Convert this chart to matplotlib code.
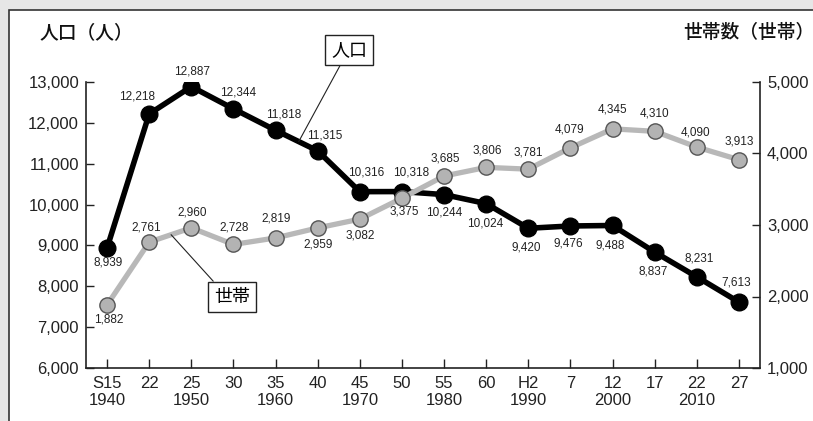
import matplotlib
matplotlib.use("Agg")
import matplotlib.pyplot as plt
from matplotlib.patches import Rectangle
from matplotlib.ticker import FuncFormatter, FixedLocator

# ------------------------------------------------------------------
# データ
# ------------------------------------------------------------------
era_labels = ["S15", "22", "25", "30", "35", "40", "45", "50", "55", "60",
              "H2", "7", "12", "17", "22", "27"]
year_labels = ["1940", "", "1950", "", "1960", "", "1970", "", "1980", "",
               "1990", "", "2000", "", "2010", ""]
population = [8939, 12218, 12887, 12344, 11818, 11315, 10316, 10318, 10244,
              10024, 9420, 9476, 9488, 8837, 8231, 7613]
households = [1882, 2761, 2960, 2728, 2819, 2959, 3082, 3375, 3685, 3806,
              3781, 4079, 4345, 4310, 4090, 3913]

# 数値ラベルのずらし量（ピクセル）
pop_offsets = [(1, -15), (-12, 17), (1, 15), (5, 16), (8, 16), (7, 15),
               (6, 19), (9, 19), (0, -18), (-1, -20), (-2, -19), (-2, -18),
               (-2, -20), (-2, -19), (2, 18), (-3, 20)]
hh_offsets = [(2, -15), (-3, 15), (1, 15), (1, 17), (1, 19), (0, -17),
              (0, -16), (2, -13), (1, 18), (1, 17), (0, 17), (-1, 18),
              (0, 19), (0, 18), (-1, 15), (0, 18)]

NUM_FONT = ["Liberation Sans", "DejaVu Sans"]
JP_FONT = ["Noto Sans CJK JP", "DejaVu Sans"]

x = list(range(len(era_labels)))
W, H = 813, 421

fig = plt.figure(figsize=(W / 100, H / 100), dpi=100)
fig.patch.set_facecolor("#e6e6e6")

# 白い枠
fig.patches.append(Rectangle((9 / W, -0.1), 1.0, 1 - 10 / H + 0.1,
                             transform=fig.transFigure, facecolor="white",
                             edgecolor="#333333", lw=1.2, zorder=-10))

ax = fig.add_axes([86 / W, (H - 368) / H, (760 - 86) / W, (368 - 82) / H])
ax.patch.set_visible(False)
ax2 = ax.twinx()
ax2.patch.set_visible(False)

ax.set_xlim(-0.5, len(x) - 0.5)
ax.set_ylim(6000, 13000)
ax2.set_ylim(1000, 5000)

# 人口（黒）
ax.plot(x, population, color="black", lw=4, marker="o", ms=12,
        markerfacecolor="black", markeredgecolor="black", zorder=3)
# 世帯（グレー）
ax2.plot(x, households, color="#b8b8b8", lw=3.8, marker="o", ms=11,
         markerfacecolor="#b3b3b3", markeredgecolor="#555555",
         markeredgewidth=1, zorder=3)

for i, v in enumerate(population):
    ax.annotate(f"{v:,}", (x[i], v), xytext=pop_offsets[i],
                textcoords="offset pixels", ha="center", va="center",
                fontsize=8.5, family=NUM_FONT, color="#222222")
for i, v in enumerate(households):
    ax2.annotate(f"{v:,}", (x[i], v), xytext=hh_offsets[i],
                 textcoords="offset pixels", ha="center", va="center",
                 fontsize=8.5, family=NUM_FONT, color="#222222")

# 軸
fmt = FuncFormatter(lambda v, p: f"{int(v):,}")
ax.yaxis.set_major_locator(FixedLocator(range(6000, 13001, 1000)))
ax.yaxis.set_major_formatter(fmt)
ax2.yaxis.set_major_locator(FixedLocator(range(1000, 5001, 1000)))
ax2.yaxis.set_major_formatter(fmt)

ax.set_xticks(x)
ax.set_xticklabels([f"{e}\n{y}" if y else e for e, y in zip(era_labels, year_labels)],
                   family=NUM_FONT, fontsize=12, linespacing=1.1, va="top")

for a in (ax, ax2):
    a.spines["top"].set_visible(False)
ax.spines["right"].set_visible(False)
ax2.spines["left"].set_visible(False)
ax2.spines["bottom"].set_visible(False)
for s in ("left", "bottom"):
    ax.spines[s].set_linewidth(1.2)
    ax.spines[s].set_color("#222222")
ax2.spines["right"].set_linewidth(1.2)
ax2.spines["right"].set_color("#222222")

ax.tick_params(axis="y", direction="in", length=6, width=1, pad=5,
               labelsize=12, colors="#222222")
ax2.tick_params(axis="y", direction="in", length=6, width=1, pad=5,
                labelsize=12, colors="#222222")
ax.tick_params(axis="x", direction="in", length=6.5, width=1, pad=6,
               labelsize=12, colors="#222222")
for lab in ax.get_yticklabels() + ax2.get_yticklabels():
    lab.set_family(NUM_FONT)

# 軸タイトル
fig.text(40 / W, 1 - 33 / H, "人口（人）", family=JP_FONT, fontsize=13.5,
         fontweight="medium", ha="left", va="center", color="#111111")
fig.text(683 / W, 1 - 33 / H, "世帯数（世帯）", family=JP_FONT, fontsize=13.5,
         fontweight="medium", ha="left", va="center", color="#111111")

# 系列名の引き出し
box = dict(boxstyle="square,pad=0.35", facecolor="white", edgecolor="#222222", lw=1)
f = 0.55
ax.annotate("人口", xy=(4 + f, population[4] + f * (population[5] - population[4])),
            xytext=(349 / W, 1 - 50 / H), textcoords="figure fraction",
            ha="center", va="center", fontsize=13, family=JP_FONT, bbox=box,
            arrowprops=dict(arrowstyle="-", lw=0.8, color="#222222",
                            shrinkA=0, shrinkB=0, relpos=(0.35, 0)))
f = 0.52
ax2.annotate("世帯", xy=(1 + f, households[1] + f * (households[2] - households[1])),
             xytext=(232 / W, 1 - 297 / H), textcoords="figure fraction",
             ha="center", va="center", fontsize=13, family=JP_FONT, bbox=box,
             arrowprops=dict(arrowstyle="-", lw=0.8, color="#222222",
                             shrinkA=0, shrinkB=0, relpos=(0.15, 1)))

fig.savefig("out.png", dpi=100, facecolor=fig.get_facecolor())
